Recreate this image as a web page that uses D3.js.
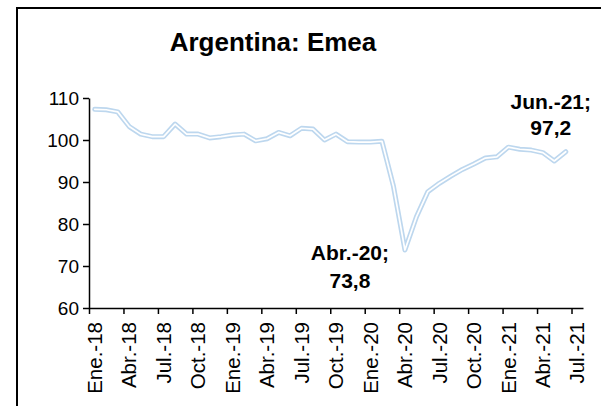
<!DOCTYPE html>
<html lang="es">
<head>
<meta charset="utf-8">
<title>Argentina: Emea</title>
<script src="https://d3js.org/d3.v7.min.js"></script>
<style>
body { margin: 0; background: #fff; }
text { font-family: Arial, "Liberation Sans", sans-serif; fill: #000; }
.axis path, .axis line { stroke: #000; stroke-width: 1.5px; }
</style>
</head>
<body>
<svg width="601" height="406"></svg>
<script>
// months on the category axis (Jul.-21 has no value yet)
var months = ["Ene.-18","Feb.-18","Mar.-18","Abr.-18","May.-18","Jun.-18","Jul.-18","Ago.-18","Sep.-18","Oct.-18","Nov.-18","Dic.-18",
  "Ene.-19","Feb.-19","Mar.-19","Abr.-19","May.-19","Jun.-19","Jul.-19","Ago.-19","Sep.-19","Oct.-19","Nov.-19","Dic.-19",
  "Ene.-20","Feb.-20","Mar.-20","Abr.-20","May.-20","Jun.-20","Jul.-20","Ago.-20","Sep.-20","Oct.-20","Nov.-20","Dic.-20",
  "Ene.-21","Feb.-21","Mar.-21","Abr.-21","May.-21","Jun.-21","Jul.-21"];

var emea = [107.3,107.2,106.7,103.2,101.4,100.8,100.8,103.8,101.4,101.4,100.5,100.8,
  101.2,101.4,99.8,100.3,101.8,101.0,102.8,102.6,100.0,101.4,99.6,99.5,
  99.5,99.7,89.0,73.8,81.7,87.7,89.7,91.4,93.0,94.3,95.7,96.0,
  98.3,97.8,97.6,97.0,95.0,97.2];

var yTicks = [60,70,80,90,100,110];
var highlights = ["Abr.-20","Jun.-21"];

var svg = d3.select("svg");

// chart frame
svg.append("rect")
  .attr("x",17).attr("y",8)
  .attr("width",640).attr("height",420)
  .attr("fill","none").attr("stroke","#000").attr("stroke-width",2);

svg.append("text")
  .attr("x",273).attr("y",51)
  .attr("text-anchor","middle")
  .attr("font-size",26).attr("font-weight","bold")
  .text("Argentina: Emea");

var plotL = 89, plotR = 583, plotT = 98, plotB = 308;

var x = d3.scaleBand().domain(months).range([plotL,plotR]).padding(0);
var xi = d3.scaleLinear().domain([0,months.length]).range([plotL,plotR]);
var y = d3.scaleLinear().domain([60,110]).range([plotB,plotT]);

// y axis
svg.append("g").attr("class","axis")
  .attr("transform","translate("+plotL+",0)")
  .call(d3.axisLeft(y).tickValues(yTicks).tickSize(6).tickSizeOuter(0).tickPadding(4))
  .selectAll("text").attr("font-size",19);

// x axis: ticks between categories
var tickIdx = d3.range(0,months.length,3);
svg.append("g").attr("class","axis")
  .attr("transform","translate(0,"+plotB+")")
  .call(d3.axisBottom(xi).tickValues(tickIdx).tickSize(6).tickSizeOuter(0).tickFormat(""));

// x labels centred on categories
svg.append("g").selectAll("text")
  .data(tickIdx.map(function(i){return months[i]}))
  .enter().append("text")
  .attr("transform",function(d){return "translate("+(x(d)+x.bandwidth()/2)+","+(plotB+14)+") rotate(-90)"})
  .attr("text-anchor","end")
  .attr("dy","0.35em")
  .attr("font-size",20.5)
  .text(function(d){return d});

// double line
var pts = emea.map(function(v,i){return [x(months[i])+x.bandwidth()/2, y(v)]});
var line = d3.line();
svg.append("path").attr("d",line(pts))
  .attr("fill","none").attr("stroke","#BDD7EE").attr("stroke-width",5)
  .attr("stroke-linejoin","round").attr("stroke-linecap","round");
svg.append("path").attr("d",line(pts))
  .attr("fill","none").attr("stroke","#fff").attr("stroke-width",1.7)
  .attr("stroke-linejoin","round").attr("stroke-linecap","round");

// data labels
var offs = {"Abr.-20":[-55,10,38], "Jun.-21":[-15,-43,-17]};
highlights.forEach(function(m){
  var i = months.indexOf(m);
  var px = x(m)+x.bandwidth()/2, py = y(emea[i]);
  var o = offs[m];
  var t = svg.append("text").attr("text-anchor","middle")
    .attr("font-size",21).attr("font-weight","bold");
  t.append("tspan").attr("x",px+o[0]).attr("y",py+o[1]).text(m+";");
  t.append("tspan").attr("x",px+o[0]).attr("y",py+o[2]).text(emea[i].toFixed(1).replace(".",","));
});
</script>
</body>
</html>
